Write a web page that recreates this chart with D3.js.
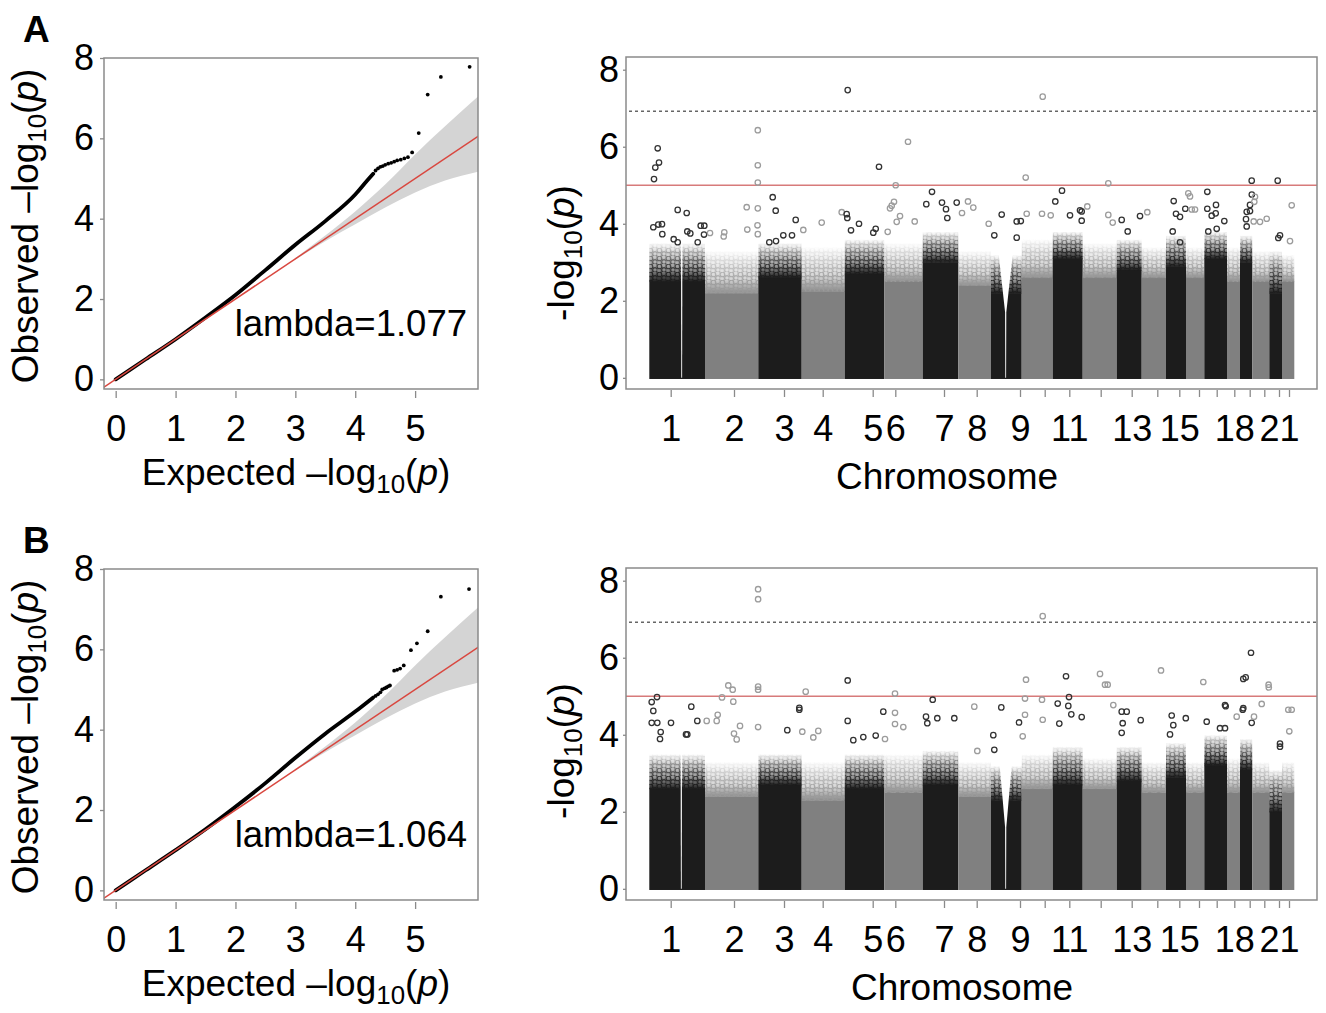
<!DOCTYPE html>
<html><head><meta charset="utf-8">
<script src="https://cdn.jsdelivr.net/npm/d3@7"></script>
<style>
body{margin:0;background:#fff}
text{font-family:"Liberation Sans",Arial,Helvetica,sans-serif}
</style>
</head><body>
<svg id="c" width="1326" height="1013"></svg>
<script>
// ---------------- DATA ----------------
const chromosomes = ["1","2","3","4","5","6","7","8","9","10","11","12","13","14","15","16","17","18","19","20","21","22"];
// cumulative genome positions (arbitrary units)
const chromStart = [0,55.7,109,152.4,195.4,235,273.4,309,341.7,372.4,403.4,433.4,467.4,492.4,516.7,536.7,555,577.7,590.7,603,620,632.7];
const chromEnd   = [55.7,109,152.4,195.4,235,273.4,309,341.7,372.4,403.4,433.4,467.4,492.4,516.7,536.7,555,577.7,590.7,603,620,632.7,645];
const chromTickPos = [21.4,84.7,134.7,173.4,223.4,246,294.7,327.4,370.7,395.4,420,451.4,482.4,508,530,549.7,567.4,585,600.4,615,629.7,639.7];
const chromTickLabels = ["1","2","3","4","5","6","7","8","9","","11","","13","","15","","","18","","","21",""];
const manYTicks = [0,2,4,6,8];
const suggestiveLine = 5;
const genomeWideLine = 6.92;

// dense body of each chromosome: level where points are solid, and where they thin out
const denseTopA = [2.5,2.2,2.6,2.25,2.7,2.5,3.0,2.4,2.2,2.6,3.1,2.6,2.8,2.6,2.9,2.6,3.1,2.5,3.0,2.5,2.2,2.5];
const sparseTopA = [3.5,3.3,3.5,3.4,3.6,3.5,3.8,3.3,3.2,3.6,3.8,3.5,3.6,3.4,3.7,3.4,3.8,3.4,3.7,3.3,3.3,3.2];
const denseTopB = [2.6,2.4,2.7,2.3,2.6,2.5,2.7,2.4,2.3,2.6,2.7,2.6,2.8,2.5,2.9,2.5,3.2,2.5,3.1,2.5,2.0,2.5];
const sparseTopB = [3.5,3.3,3.5,3.3,3.5,3.5,3.6,3.3,3.2,3.5,3.7,3.4,3.7,3.3,3.8,3.3,4.0,3.4,3.9,3.3,3.1,3.3];
// gaps in the dense body: [position, half width at top, shoulder value]
const gapsA = [[32.4,0.6,2.0],[356.4,7,1.7]];
const gapsB = [[32.0,0.6,2.0],[356.4,6,1.6]];

// individual SNPs above the dense body: [position, -log10(p)]
const hitsA = [
 [8.4,5.96],[9.7,5.59],[6.0,5.46],[4.7,5.16],[28.4,4.36],[37.4,4.28],[4,3.91],[9,3.98],[12.7,3.99],[51.4,3.95],[55,3.95],[13,3.73],[38,3.8],[41,3.75],[54.7,3.72],[24.4,3.6],[28.4,3.52],[48.4,3.52],
 [60.7,3.76],[75,3.78],[74.4,3.67],[97.4,4.43],[98,3.85],[108.5,6.43],[108.5,5.52],[108.5,5.07],[108.5,4.4],[108.2,3.96],[108.5,3.73],
 [123.4,4.69],[126.4,4.34],[146.4,4.1],[134,3.7],[142.7,3.7],[120,3.52],[126.7,3.55],
 [154,3.84],[172.4,4.03],[192.4,4.3],
 [198.4,7.47],[229.7,5.48],[197.4,4.25],[198,4.15],[209.7,4.0],[201.7,3.83],[224,3.77],[226.4,3.87],
 [258.7,6.13],[246.4,5.0],[244.7,4.57],[242.4,4.47],[240.7,4.4],[250.7,4.2],[247.4,4.05],[238.4,3.79],[265.4,4.06],
 [282.7,4.83],[277,4.51],[292.7,4.55],[307.4,4.55],[296.7,4.38],[298,4.15],
 [318.7,4.58],[324,4.42],[312.7,4.28],[339.4,4.0],
 [352.4,4.24],[367.4,4.06],[345,3.7],[367.4,3.64],[371.5,4.07],
 [393.4,7.3],[376.4,5.2],[377.4,4.26],[392.7,4.26],[401.4,4.22],
 [412.7,4.86],[406,4.58],[420.7,4.22],[430.7,4.35],[432.4,4.32],[432.4,4.08],
 [459,5.05],[438,4.45],[459,4.23],[463.4,4.03],
 [472.4,4.1],[490.7,4.2],[478.4,3.8],
 [498,4.3],
 [524.4,4.59],[526.7,4.26],[530.7,4.18],[536,4.39],[523.4,3.8],[530.7,3.52],
 [539,4.79],[540.7,4.71],[542.4,4.37],[545.7,4.37],
 [558,4.83],[566.7,4.49],[558,4.39],[566.4,4.27],[562.4,4.21],[575,4.07],[567.4,3.87],[559,3.8],
 [602.4,5.12],[602.5,4.76],[600.7,4.49],[597.4,4.31],[600.7,4.33],[596.7,4.12],[597.4,3.93],
 [605.7,4.7],[605,4.57],[604.4,4.06],[617.4,4.13],[610.7,4.05],
 [628.4,5.12],[630.7,3.7],[629,3.63],
 [642.4,4.48],[640.7,3.55]
];
const hitsB = [
 [2.4,4.85],[7.7,4.98],[4,4.62],[2.4,4.31],[8,4.31],[21.7,4.31],[11.4,4.07],[10.7,3.89],[42,4.73],[48,4.36],[36.7,4.01],[38,4.01],
 [108.8,7.78],[108.8,7.52],[108.8,5.25],[108.8,5.17],[79,5.28],[83.4,5.17],[84,4.86],[72.7,4.97],[68.4,4.52],[67.4,4.36],[57.4,4.36],[90.7,4.23],[84.7,4.03],[87.4,3.88],[108.8,4.2],
 [150,4.7],[150,4.65],[138,4.12],
 [156.4,5.12],[153,4.08],[169,4.1],[164,3.93],
 [198.4,5.41],[234,4.6],[198.4,4.36],[226.4,3.98],[204,3.86],[214,3.94],
 [245.7,5.07],[245.7,4.57],[245.7,4.28],[254,4.2],[235.7,3.89],
 [283.4,4.91],[276.7,4.47],[288,4.43],[278,4.3],[305,4.43],
 [325,4.73],[328,3.58],
 [352,4.71],[369.7,4.32],[345,3.61],[344,3.99],
 [393.4,7.08],[376.7,5.43],[375.7,4.94],[375.7,4.52],[392.7,4.91],[393.4,4.39],[373.4,3.96],
 [416.7,5.52],[419.7,4.98],[419,4.75],[422,4.53],[408.4,4.81],[410,4.29],[432.4,4.46],
 [450.7,5.58],[455.7,5.3],[458.4,5.3],[464,4.77],
 [472.4,4.6],[477.4,4.6],[491.4,4.38],[473.4,4.3],[472.4,4.05],
 [511.7,5.67],
 [522.4,4.5],[524,4.25],[520.7,4.01],
 [536.5,4.43],[554,5.37],
 [557.4,4.34],[575.7,4.77],[576.4,4.74],[570.7,4.17],[575.7,4.17],
 [587.4,4.47],
 [601.7,6.13],[594,5.45],[596.4,5.49],[594,4.69],[593.4,4.65],[602.4,4.31],
 [604.7,4.47],[612.4,4.8],[619.3,5.3],[619.5,5.23],
 [630.7,3.77],[630.7,3.69],
 [639,4.65],[642.4,4.65],[640,4.09]
];

// QQ plots
const qqXTicks = [0,1,2,3,4,5];
const qqYTicks = [0,2,4,6,8];
const qqCurveA = [[0,0],[0.5,0.5],[1,1.0],[1.5,1.54],[2,2.1],[2.5,2.72],[3,3.35],[3.5,3.94],[4,4.6],[4.2,4.95],[4.3,5.12]];
const qqTailA = [[4.34,5.2],[4.38,5.25],[4.42,5.29],[4.46,5.31],[4.5,5.34],[4.55,5.37],[4.6,5.39],[4.65,5.42],[4.7,5.45],[4.76,5.47],[4.82,5.5],[4.88,5.53],[4.95,5.65],[5.06,6.13],[5.21,7.09],[5.43,7.53],[5.91,7.78]];
const qqCurveB = [[0,0],[0.5,0.5],[1,1.0],[1.5,1.52],[2,2.08],[2.5,2.67],[3,3.3],[3.5,3.9],[4,4.45],[4.3,4.8]];
const qqTailB = [[4.34,4.84],[4.38,4.88],[4.42,4.93],[4.45,5.0],[4.49,5.03],[4.52,5.05],[4.55,5.08],[4.58,5.1],[4.65,5.47],[4.7,5.49],[4.75,5.52],[4.81,5.6],[4.93,5.98],[5.03,6.15],[5.21,6.45],[5.43,7.31],[5.9,7.5]];
const ciExpected = [3,3.5,4,4.5,5,5.5,6.05];
const ciUpper = [3.02,3.58,4.18,4.85,5.6,6.3,7.04];
const ciLower = [2.98,3.44,3.86,4.28,4.65,4.95,5.17];
const lambdaA = "1.077";
const lambdaB = "1.064";

// ---------------- DRAW ----------------
const svg = d3.select("#c");
const defs = svg.append("defs");
function grad(id, color, mid){
  const lg = defs.append("linearGradient").attr("id",id).attr("x1",0).attr("y1",1).attr("x2",0).attr("y2",0);
  lg.append("stop").attr("offset","0%").attr("stop-color",color).attr("stop-opacity",1);
  lg.append("stop").attr("offset","35%").attr("stop-color",color).attr("stop-opacity",mid);
  lg.append("stop").attr("offset","100%").attr("stop-color",color).attr("stop-opacity",0);
}
grad("fuzzBlack","#1c1c1c",0.45);
grad("fuzzGray","#8a8a8a",0.35);
grad("fadeGrad","#ffffff",0.8);
const mask = defs.append("mask").attr("id","fadeMask").attr("maskContentUnits","objectBoundingBox");
mask.append("rect").attr("width",1).attr("height",1).attr("fill","url(#fadeGrad)");
function ringPattern(id, color){
  const p = defs.append("pattern").attr("id",id).attr("patternUnits","userSpaceOnUse").attr("width",9).attr("height",8);
  [[2.5,2.5],[7,6],[6.5,1.5],[2,6.5]].forEach(([cx,cy],k)=>{
    p.append("circle").attr("cx",cx).attr("cy",cy).attr("r",2.3).attr("fill","none")
     .attr("stroke",color).attr("stroke-width",1.1).attr("stroke-opacity", k<2 ? 1 : 0.6);
  });
}
ringPattern("ringsBlack","#1c1c1c");
ringPattern("ringsGray","#9a9a9a");

const BOX = "#8a8a8a";
const TICKFS = 36, TITLEFS = 37;

function logTitle(t, prefix){
  t.append("tspan").text(prefix + "log");
  t.append("tspan").attr("font-size", TITLEFS*0.7).attr("dy", 8).text("10");
  t.append("tspan").attr("dy", -8).text("(");
  t.append("tspan").attr("font-style","italic").text("p");
  t.append("tspan").text(")");
}

function styleAxis(a){
  a.select(".domain").remove();
  a.selectAll(".tick line").attr("stroke", BOX).attr("stroke-width",1.3);
  a.selectAll(".tick text").attr("fill","#000").attr("font-size",TICKFS)
   .attr("font-family","'Liberation Sans',Arial,sans-serif");
}

function drawQQ(off, curve, tail, lambda, letter){
  const L=104, R=478, T=58+off, B=389+off;
  const x = d3.scaleLinear().domain([-0.195,6.05]).range([L,R]);
  const y = d3.scaleLinear().domain([-0.24,8.0]).range([B,T]);
  const g = svg.append("g");
  const cid = "qqclip"+letter;
  defs.append("clipPath").attr("id",cid).append("rect").attr("x",L).attr("y",T).attr("width",R-L).attr("height",B-T);
  const pg = g.append("g").attr("clip-path",`url(#${cid})`);
  const band = ciExpected.map((e,i)=>({e, u:ciUpper[i], l:ciLower[i]}));
  pg.append("path").datum(band)
    .attr("d", d3.area().x(d=>x(d.e)).y0(d=>y(d.l)).y1(d=>y(d.u)).curve(d3.curveMonotoneX))
    .attr("fill","#d4d4d4");
  pg.append("path").datum(curve)
    .attr("d", d3.line().x(d=>x(d[0])).y(d=>y(d[1])).curve(d3.curveMonotoneX))
    .attr("fill","none").attr("stroke","#000").attr("stroke-width",3.8).attr("stroke-linecap","round");
  pg.append("line").attr("x1",x(-0.5)).attr("y1",y(-0.5)).attr("x2",x(7)).attr("y2",y(7))
    .attr("stroke","#d9473f").attr("stroke-width",1.5);
  pg.selectAll("circle.tail").data(tail).enter().append("circle")
    .attr("cx",d=>x(d[0])).attr("cy",d=>y(d[1])).attr("r",1.9).attr("fill","#000");
  g.append("rect").attr("x",L).attr("y",T).attr("width",R-L).attr("height",B-T)
    .attr("fill","none").attr("stroke",BOX).attr("stroke-width",1.5);
  const ax = g.append("g").attr("transform",`translate(0,${B+2})`)
    .call(d3.axisBottom(x).tickValues(qqXTicks).tickSize(7).tickPadding(17).tickFormat(d3.format("d")));
  styleAxis(ax);
  const ay = g.append("g").attr("transform",`translate(${L},0)`)
    .call(d3.axisLeft(y).tickValues(qqYTicks).tickSize(4).tickPadding(6).tickFormat(d3.format("d")));
  styleAxis(ay);
  g.append("text").attr("x",467).attr("y",336+off).attr("text-anchor","end")
    .attr("font-size",36.5).text("lambda=" + lambda);
  const tx = g.append("text").attr("x",296).attr("y",485+off).attr("text-anchor","middle").attr("font-size",TITLEFS);
  logTitle(tx, "Expected \u2013");
  const ty = g.append("text").attr("transform",`translate(38,${226+off}) rotate(-90)`).attr("text-anchor","middle").attr("font-size",TITLEFS);
  logTitle(ty, "Observed \u2013");
  g.append("text").attr("x",23).attr("y",42+off).attr("font-size",37).attr("font-weight","bold").text(letter);
}

function drawManhattan(off, denseTop, sparseTop, gaps, hits, titleYc, chromX){
  const L=626, R=1317, T=57+off, B=389+off;
  const x = d3.scaleLinear().domain([-23.3,667.7]).range([L,R]);
  const y = d3.scaleLinear().domain([-0.29,8.33]).range([B,T]);
  const g = svg.append("g");
  const colOf = i => i%2===0 ? "#1c1c1c" : "#808080";
  chromosomes.forEach((c,i)=>{
    const x0 = x(chromStart[i]), w = x(chromEnd[i]) - x0;
    const even = i%2===0;
    g.append("rect").attr("x",x0).attr("width",w).attr("y",y(denseTop[i])).attr("height",y(-0.03)-y(denseTop[i]))
      .attr("fill",colOf(i));
    g.append("rect").attr("x",x0).attr("width",w).attr("y",y(sparseTop[i])).attr("height",y(denseTop[i])-y(sparseTop[i])+0.5)
      .attr("fill", even ? "url(#fuzzBlack)" : "url(#fuzzGray)");
    g.append("rect").attr("x",x0).attr("width",w).attr("y",y(sparseTop[i])).attr("height",y(denseTop[i])-y(sparseTop[i])+0.5)
      .attr("fill", even ? "url(#ringsBlack)" : "url(#ringsGray)").attr("mask","url(#fadeMask)");
  });
  gaps.forEach(([c,hw,sh])=>{
    const idx = chromStart.findIndex((s,i)=> c>=s && c<chromEnd[i]);
    const top = sparseTop[idx];
    const pts = [[c-hw,top],[c-0.6,sh],[c-0.4,0],[c+0.4,0],[c+0.6,sh],[c+hw,top]];
    g.append("path").attr("d", d3.line().x(d=>x(d[0])).y(d=>y(d[1]))(pts)+"Z").attr("fill","#fff");
  });
  g.append("line").attr("x1",L).attr("x2",R).attr("y1",y(suggestiveLine)).attr("y2",y(suggestiveLine))
    .attr("stroke","#d77a7a").attr("stroke-width",1.4);
  g.append("line").attr("x1",L+3).attr("x2",R).attr("y1",y(genomeWideLine)).attr("y2",y(genomeWideLine))
    .attr("stroke","#666").attr("stroke-width",1.5).attr("stroke-dasharray","3,3");
  g.selectAll("circle.hit").data(hits).enter().append("circle")
    .attr("cx",d=>x(d[0])).attr("cy",d=>y(d[1])).attr("r",2.7)
    .attr("fill","none").attr("stroke-width",1.3)
    .attr("stroke", d=>{
      const idx = chromStart.findIndex((s,i)=> d[0]>=s && d[0]<chromEnd[i]);
      return idx%2===0 ? "#333" : "#9c9c9c";
    });
  g.append("rect").attr("x",L).attr("y",T).attr("width",R-L).attr("height",B-T)
    .attr("fill","none").attr("stroke",BOX).attr("stroke-width",1.5);
  const ax = g.append("g").attr("transform",`translate(0,${B+1})`)
    .call(d3.axisBottom(x).tickValues(chromTickPos).tickSize(7).tickPadding(18).tickFormat((d,i)=>chromTickLabels[i]));
  styleAxis(ax);
  const ay = g.append("g").attr("transform",`translate(${L},0)`)
    .call(d3.axisLeft(y).tickValues(manYTicks).tickSize(3).tickPadding(4).tickFormat(d3.format("d")));
  styleAxis(ay);
  g.append("text").attr("x",chromX).attr("y",489+off).attr("text-anchor","middle").attr("font-size",TITLEFS).text("Chromosome");
  const ty = g.append("text").attr("transform",`translate(574,${titleYc}) rotate(-90)`).attr("text-anchor","middle").attr("font-size",TITLEFS);
  logTitle(ty, "-");
}

drawQQ(0, qqCurveA, qqTailA, lambdaA, "A");
drawQQ(511, qqCurveB, qqTailB, lambdaB, "B");
drawManhattan(0, denseTopA, sparseTopA, gapsA, hitsA, 253, 947);
drawManhattan(511, denseTopB, sparseTopB, gapsB, hitsB, 751, 962);
</script>
</body></html>
